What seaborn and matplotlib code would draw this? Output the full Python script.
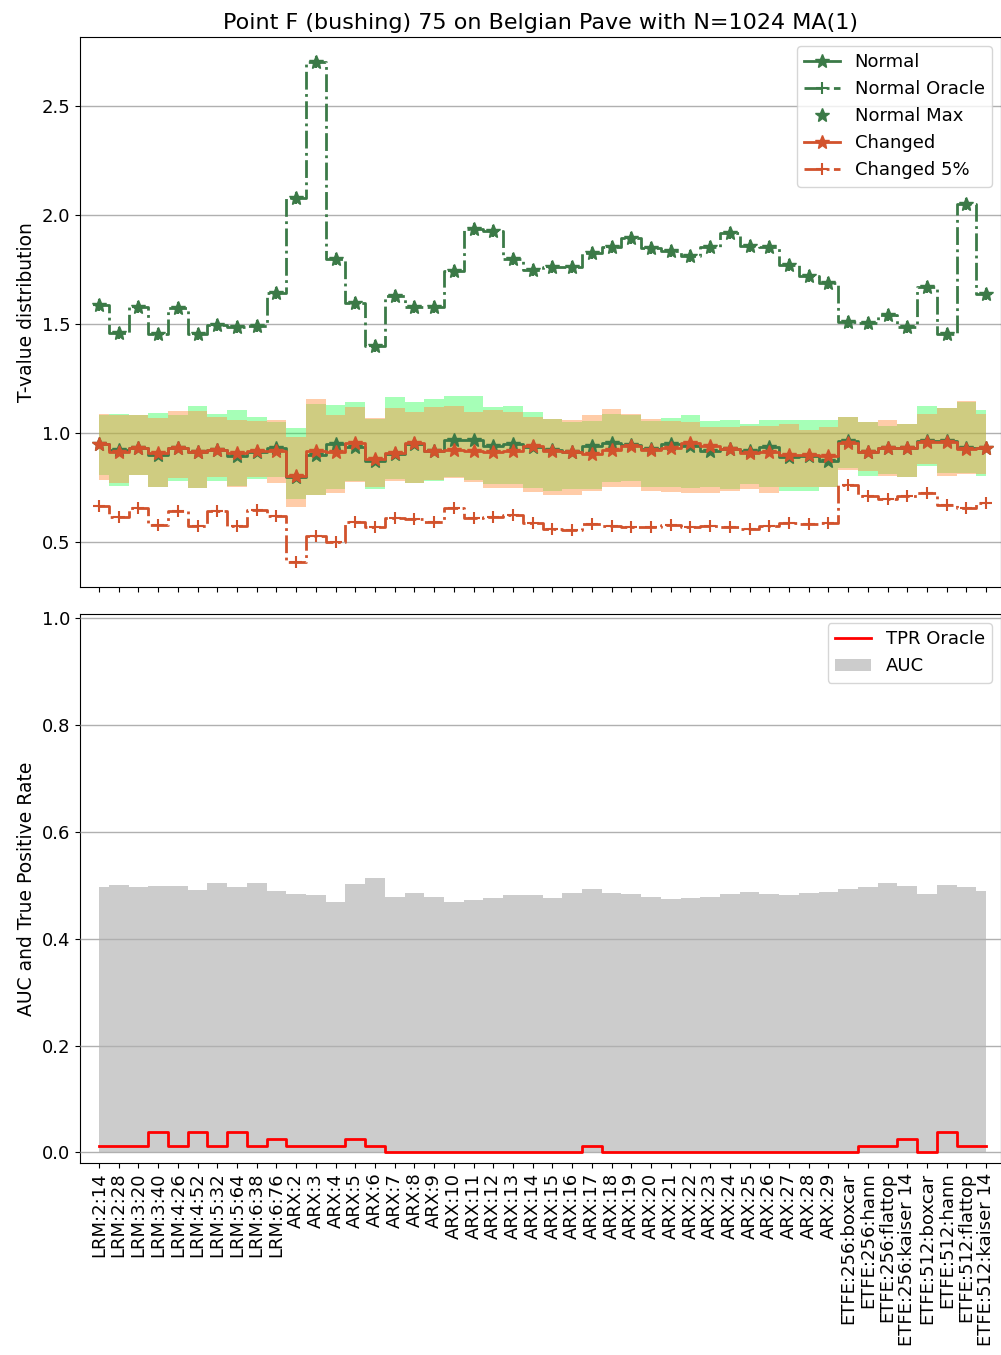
import numpy as np
import pandas as pd
import matplotlib
matplotlib.use("Agg")
import matplotlib.pyplot as plt
import seaborn as sns

categories = ["LRM:2:14", "LRM:2:28", "LRM:3:20", "LRM:3:40", "LRM:4:26", "LRM:4:52",
              "LRM:5:32", "LRM:5:64", "LRM:6:38", "LRM:6:76",
              "ARX:2", "ARX:3", "ARX:4", "ARX:5", "ARX:6", "ARX:7", "ARX:8", "ARX:9",
              "ARX:10", "ARX:11", "ARX:12", "ARX:13", "ARX:14", "ARX:15", "ARX:16",
              "ARX:17", "ARX:18", "ARX:19", "ARX:20", "ARX:21", "ARX:22", "ARX:23",
              "ARX:24", "ARX:25", "ARX:26", "ARX:27", "ARX:28", "ARX:29",
              "ETFE:256:boxcar", "ETFE:256:hann", "ETFE:256:flattop", "ETFE:256:kaiser 14",
              "ETFE:512:boxcar", "ETFE:512:hann", "ETFE:512:flattop", "ETFE:512:kaiser 14"]

normal_oracle = [1.586, 1.461, 1.579, 1.455, 1.573, 1.453, 1.496, 1.486, 1.491, 1.642,
                 2.079, 2.700, 1.799, 1.597, 1.398, 1.629, 1.579, 1.576, 1.745, 1.933,
                 1.925, 1.797, 1.748, 1.760, 1.760, 1.825, 1.851, 1.892, 1.846, 1.835,
                 1.810, 1.851, 1.917, 1.856, 1.851, 1.769, 1.720, 1.688, 1.511, 1.504,
                 1.543, 1.488, 1.671, 1.453, 2.051, 1.639]
normal_max = [1.586, 1.461, 1.579, 1.455, 1.573, 1.453, 1.496, 1.486, 1.491, 1.642,
              2.079, 2.700, 1.799, 1.597, 1.398, 1.629, 1.579, 1.576, 1.745, 1.933,
              1.925, 1.797, 1.748, 1.760, 1.760, 1.825, 1.851, 1.892, 1.846, 1.835,
              1.810, 1.851, 1.917, 1.856, 1.851, 1.769, 1.720, 1.688, 1.511, 1.504,
              1.543, 1.488, 1.671, 1.453, 2.051, 1.639]
changed_5 = [0.664, 0.618, 0.656, 0.577, 0.643, 0.574, 0.643, 0.574, 0.646, 0.620,
             0.410, 0.528, 0.503, 0.593, 0.570, 0.613, 0.606, 0.593, 0.656, 0.611,
             0.618, 0.626, 0.590, 0.562, 0.554, 0.582, 0.574, 0.570, 0.570, 0.577,
             0.570, 0.574, 0.570, 0.562, 0.574, 0.590, 0.582, 0.587, 0.762, 0.710,
             0.697, 0.713, 0.724, 0.672, 0.656, 0.680]
normal = [0.950, 0.924, 0.934, 0.901, 0.934, 0.914, 0.922, 0.896, 0.912, 0.930,
          0.798, 0.901, 0.950, 0.937, 0.873, 0.905, 0.951, 0.916, 0.968, 0.968,
          0.942, 0.950, 0.936, 0.922, 0.915, 0.942, 0.956, 0.947, 0.927, 0.950,
          0.942, 0.919, 0.927, 0.919, 0.937, 0.892, 0.896, 0.873, 0.965, 0.915,
          0.934, 0.934, 0.965, 0.965, 0.934, 0.934]
changed = [0.948, 0.915, 0.934, 0.909, 0.934, 0.912, 0.922, 0.907, 0.919, 0.916,
           0.802, 0.916, 0.915, 0.957, 0.881, 0.907, 0.955, 0.916, 0.924, 0.916,
           0.915, 0.919, 0.940, 0.916, 0.915, 0.904, 0.922, 0.942, 0.922, 0.934,
           0.957, 0.942, 0.927, 0.909, 0.915, 0.901, 0.901, 0.896, 0.957, 0.912,
           0.934, 0.930, 0.960, 0.960, 0.927, 0.934]
normal_hi = [1.082, 1.088, 1.082, 1.091, 1.082, 1.125, 1.088, 1.105, 1.075, 1.053,
             1.023, 1.133, 1.130, 1.143, 1.064, 1.166, 1.143, 1.155, 1.168, 1.168,
             1.120, 1.125, 1.096, 1.064, 1.053, 1.056, 1.087, 1.084, 1.056, 1.070,
             1.081, 1.056, 1.059, 1.041, 1.062, 1.062, 1.059, 1.061, 1.072, 1.053,
             1.034, 1.044, 1.125, 1.114, 1.143, 1.107]
normal_lo = [0.808, 0.758, 0.809, 0.752, 0.782, 0.747, 0.779, 0.758, 0.788, 0.797,
             0.698, 0.718, 0.744, 0.782, 0.744, 0.788, 0.770, 0.779, 0.797, 0.785,
             0.767, 0.765, 0.750, 0.736, 0.744, 0.744, 0.774, 0.779, 0.752, 0.755,
             0.748, 0.752, 0.744, 0.767, 0.752, 0.736, 0.733, 0.755, 0.840, 0.805,
             0.812, 0.797, 0.850, 0.817, 0.817, 0.802]
changed_hi = [1.087, 1.082, 1.085, 1.069, 1.102, 1.102, 1.075, 1.059, 1.056, 1.061,
              0.980, 1.155, 1.084, 1.120, 1.070, 1.117, 1.099, 1.122, 1.125, 1.099,
              1.105, 1.098, 1.072, 1.066, 1.061, 1.084, 1.110, 1.088, 1.067, 1.056,
              1.050, 1.026, 1.030, 1.034, 1.034, 1.041, 1.015, 1.030, 1.072, 1.049,
              1.061, 1.041, 1.087, 1.114, 1.147, 1.087]
changed_lo = [0.787, 0.770, 0.809, 0.752, 0.794, 0.747, 0.797, 0.752, 0.797, 0.770,
              0.663, 0.718, 0.724, 0.774, 0.755, 0.779, 0.770, 0.785, 0.794, 0.777,
              0.748, 0.748, 0.729, 0.718, 0.718, 0.736, 0.755, 0.755, 0.736, 0.729,
              0.724, 0.724, 0.736, 0.744, 0.724, 0.755, 0.755, 0.755, 0.831, 0.825,
              0.805, 0.797, 0.858, 0.805, 0.812, 0.812]
auc = [0.496, 0.500, 0.496, 0.499, 0.499, 0.492, 0.505, 0.496, 0.505, 0.490,
       0.483, 0.481, 0.468, 0.502, 0.514, 0.479, 0.485, 0.479, 0.469, 0.473,
       0.476, 0.481, 0.481, 0.477, 0.486, 0.494, 0.486, 0.484, 0.479, 0.474,
       0.477, 0.479, 0.484, 0.487, 0.483, 0.481, 0.486, 0.488, 0.493, 0.496,
       0.504, 0.498, 0.484, 0.500, 0.497, 0.489]
tpr_oracle = [0.0125, 0.0125, 0.0125, 0.0375, 0.0125, 0.0375, 0.0125, 0.0375, 0.0125, 0.025,
              0.0125, 0.0125, 0.0125, 0.025, 0.0125, 0.0, 0.0, 0.0, 0.0, 0.0,
              0.0, 0.0, 0.0, 0.0, 0.0, 0.0125, 0.0, 0.0, 0.0, 0.0,
              0.0, 0.0, 0.0, 0.0, 0.0, 0.0, 0.0, 0.0, 0.0, 0.0125,
              0.0125, 0.025, 0.0, 0.0375, 0.0125, 0.0125]

title = "Point F (bushing) 75 on Belgian Pave with N=1024 MA(1)"

GREEN = "#3b7a47"
ORANGE = "#d2522c"
GREEN_FILL = "#00ff33"
ORANGE_FILL = "#ff9346"

plt.rcParams["font.family"] = ["DejaVu Sans"]
plt.rcParams["font.size"] = 13

df = pd.DataFrame({
    "pos": np.arange(len(categories)),
    "normal": normal, "normal_oracle": normal_oracle, "normal_max": normal_max,
    "changed": changed, "changed_5": changed_5,
    "normal_hi": normal_hi, "normal_lo": normal_lo,
    "changed_hi": changed_hi, "changed_lo": changed_lo,
    "auc": auc, "tpr": tpr_oracle,
})

W, H = 1001, 1355
fig = plt.figure(figsize=(W / 100, H / 100), dpi=100)
ax1 = fig.add_axes([80 / W, 1 - 587 / H, 921 / W, 550 / H])
ax2 = fig.add_axes([80 / W, 1 - 1163 / H, 921 / W, 549 / H], sharex=ax1)

# ---- top panel ----
ax1.fill_between(df["pos"], df["normal_lo"], df["normal_hi"], step="mid",
                 color=GREEN_FILL, alpha=0.35, linewidth=0, zorder=1)
ax1.fill_between(df["pos"], df["changed_lo"], df["changed_hi"], step="mid",
                 color=ORANGE_FILL, alpha=0.47, linewidth=0, zorder=1.1)

sns.lineplot(data=df, x="pos", y="normal", ax=ax1, color=GREEN, lw=2,
             marker="*", markersize=10, markeredgecolor=GREEN, markeredgewidth=1,
             drawstyle="steps-mid", label="Normal", zorder=3)
sns.lineplot(data=df, x="pos", y="normal_oracle", ax=ax1, color=GREEN, lw=2,
             linestyle="-.", marker="+", markersize=9, markeredgecolor=GREEN,
             markeredgewidth=1.5, drawstyle="steps-mid", label="Normal Oracle", zorder=2)
ax1.plot(df["pos"], df["normal_max"], linestyle="None", marker="*", markersize=10,
         color=GREEN, markeredgecolor=GREEN, label="Normal Max", zorder=2.5)
sns.lineplot(data=df, x="pos", y="changed", ax=ax1, color=ORANGE, lw=2,
             marker="*", markersize=10, markeredgecolor=ORANGE, markeredgewidth=1,
             drawstyle="steps-mid", label="Changed", zorder=4)
sns.lineplot(data=df, x="pos", y="changed_5", ax=ax1, color=ORANGE, lw=2,
             linestyle="-.", marker="+", markersize=9, markeredgecolor=ORANGE,
             markeredgewidth=1.5, drawstyle="steps-mid", label="Changed 5%", zorder=2)

ax1.set_title(title, fontsize=16)
ax1.set_ylabel("T-value distribution", fontsize=13.5)
ax1.set_xlabel("")
ax1.grid(axis="y", color="#b0b0b0", lw=1)
ax1.grid(axis="x", visible=False)
ax1.set_axisbelow(True)
ax1.set_yticks([0.5, 1.0, 1.5, 2.0, 2.5])
ax1.set_ylim(0.295, 2.815)
ax1.tick_params(axis="x", labelbottom=False)
ax1.legend(loc="upper right", fontsize=13)

# ---- bottom panel ----
ax2.fill_between(df["pos"], 0, df["auc"], step="mid", color="#cccccc",
                 linewidth=0, label="AUC", zorder=1)
sns.lineplot(data=df, x="pos", y="tpr", ax=ax2, color="red", lw=2,
             drawstyle="steps-mid", label="TPR Oracle", zorder=3)
ax2.grid(axis="y", color="#b0b0b0", lw=1)
ax2.grid(axis="x", visible=False)
ax2.set_axisbelow(False)
ax2.set_ylim(-0.02, 1.008)
ax2.set_yticks([0.0, 0.2, 0.4, 0.6, 0.8, 1.0])
ax2.set_ylabel("AUC and True Positive Rate", fontsize=13.5)
ax2.set_xlabel("")
h, l = ax2.get_legend_handles_labels()
order = [l.index("TPR Oracle"), l.index("AUC")]
ax2.legend([h[i] for i in order], [l[i] for i in order], loc="upper right", fontsize=13)

ax2.set_xticks(df["pos"])
ax2.set_xticklabels(categories, rotation=90)
ax2.set_xlim(-0.964, 45.75)

for ax in (ax1, ax2):
    for s in ax.spines.values():
        s.set_color("black")

fig.savefig("out.png", dpi=100)
